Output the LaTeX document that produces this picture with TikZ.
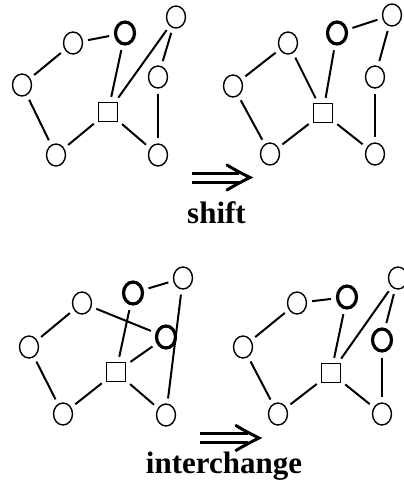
\documentclass[tikz,border=0pt]{standalone}
\usepackage{fontspec}
\setmainfont{Liberation Serif}
\usetikzlibrary{shapes.geometric,arrows.meta}
\begin{document}
\begin{tikzpicture}[x=1pt,y=-1pt,
  vtx/.style={draw,ellipse,minimum width=19pt,minimum height=22pt,inner sep=0pt,line width=1.4pt},
  bvtx/.style={vtx,line width=3.2pt},
  sq/.style={draw,rectangle,minimum size=19pt,inner sep=0pt,line width=1.6pt},
  edge/.style={line width=2pt,shorten <=5pt,shorten >=5pt},
  arrowpart/.style={line width=3pt,line cap=butt,line join=miter},
  lbl/.style={font=\fontsize{31}{36}\selectfont\bfseries,anchor=base,inner sep=0pt}]
\useasboundingbox (0,0) rectangle (404,485);
% panel 1
\node[vtx] (a1) at (73,43) {};
\node[bvtx] (b1) at (125,33) {};
\node[vtx] (c1) at (176,17) {};
\node[vtx] (d1) at (22,85) {};
\node[vtx] (e1) at (158,77) {};
\node[sq] (s1) at (108,112) {};
\node[vtx] (f1) at (56,155) {};
\node[vtx] (g1) at (158,155) {};
\foreach \u/\v in {a1/b1,a1/d1,d1/f1,f1/s1,s1/g1,s1/b1,s1/c1,c1/e1,e1/g1}
  \draw[edge] (\u) -- (\v);
% panel 2
\node[vtx] (a2) at (288,43) {};
\node[bvtx] (b2) at (337,33) {};
\node[vtx] (c2) at (392,15) {};
\node[vtx] (d2) at (233,86) {};
\node[vtx] (e2) at (375,77) {};
\node[sq] (s2) at (323,113) {};
\node[vtx] (f2) at (270,154) {};
\node[vtx] (g2) at (375,154) {};
\foreach \u/\v in {d2/a2,a2/s2,b2/s2,b2/c2,c2/e2,e2/g2,g2/s2,s2/f2,f2/d2}
  \draw[edge] (\u) -- (\v);
% shift arrow
\coordinate (sh) at (192,177.5);
\draw[arrowpart] (sh) ++(0,-4.5) -- ++(47,0);
\draw[arrowpart] (sh) ++(0,4.5) -- ++(47,0);
\draw[arrowpart,line cap=round] (sh) ++(35,-12.5) .. controls ++(8,5) and ++(-6,-3) .. ++(23,12.5)
  .. controls ++(-6,3) and ++(8,-5) .. ++(-23,12.5);
\node[lbl] (shift) at (216.5,223) {shift};
% panel 3
\node[vtx] (a3) at (82,303) {};
\node[bvtx] (b3) at (133,293) {};
\node[vtx] (c3) at (183,278) {};
\node[vtx] (d3) at (29,347) {};
\node[bvtx] (e3) at (166,337) {};
\node[sq] (s3) at (116,372) {};
\node[vtx] (f3) at (63,414) {};
\node[vtx] (g3) at (166,415) {};
\foreach \u/\v in {a3/d3,d3/f3,f3/s3,s3/g3,s3/b3,b3/c3,a3/e3,s3/e3,c3/g3}
  \draw[edge] (\u) -- (\v);
% panel 4
\node[vtx] (a4) at (297,303) {};
\node[bvtx] (b4) at (347,297) {};
\node[vtx] (c4) at (398,278) {};
\node[vtx] (d4) at (243,347) {};
\node[bvtx] (e4) at (382,340) {};
\node[sq] (s4) at (331,373) {};
\node[vtx] (f4) at (278,414) {};
\node[vtx] (g4) at (382,414) {};
\foreach \u/\v in {d4/a4,a4/b4,b4/s4,s4/c4,c4/e4,e4/g4,g4/s4,s4/f4,f4/d4}
  \draw[edge] (\u) -- (\v);
% interchange arrow
\coordinate (ic) at (200,438);
\draw[arrowpart] (ic) ++(0,-4.5) -- ++(48,0);
\draw[arrowpart] (ic) ++(0,4.5) -- ++(48,0);
\draw[arrowpart,line cap=round] (ic) ++(36,-12.5) .. controls ++(8,5) and ++(-6,-3) .. ++(23,12.5)
  .. controls ++(-6,3) and ++(8,-5) .. ++(-23,12.5);
\node[lbl] (inter) at (224,473) {interchange};
\end{tikzpicture}
\end{document}
